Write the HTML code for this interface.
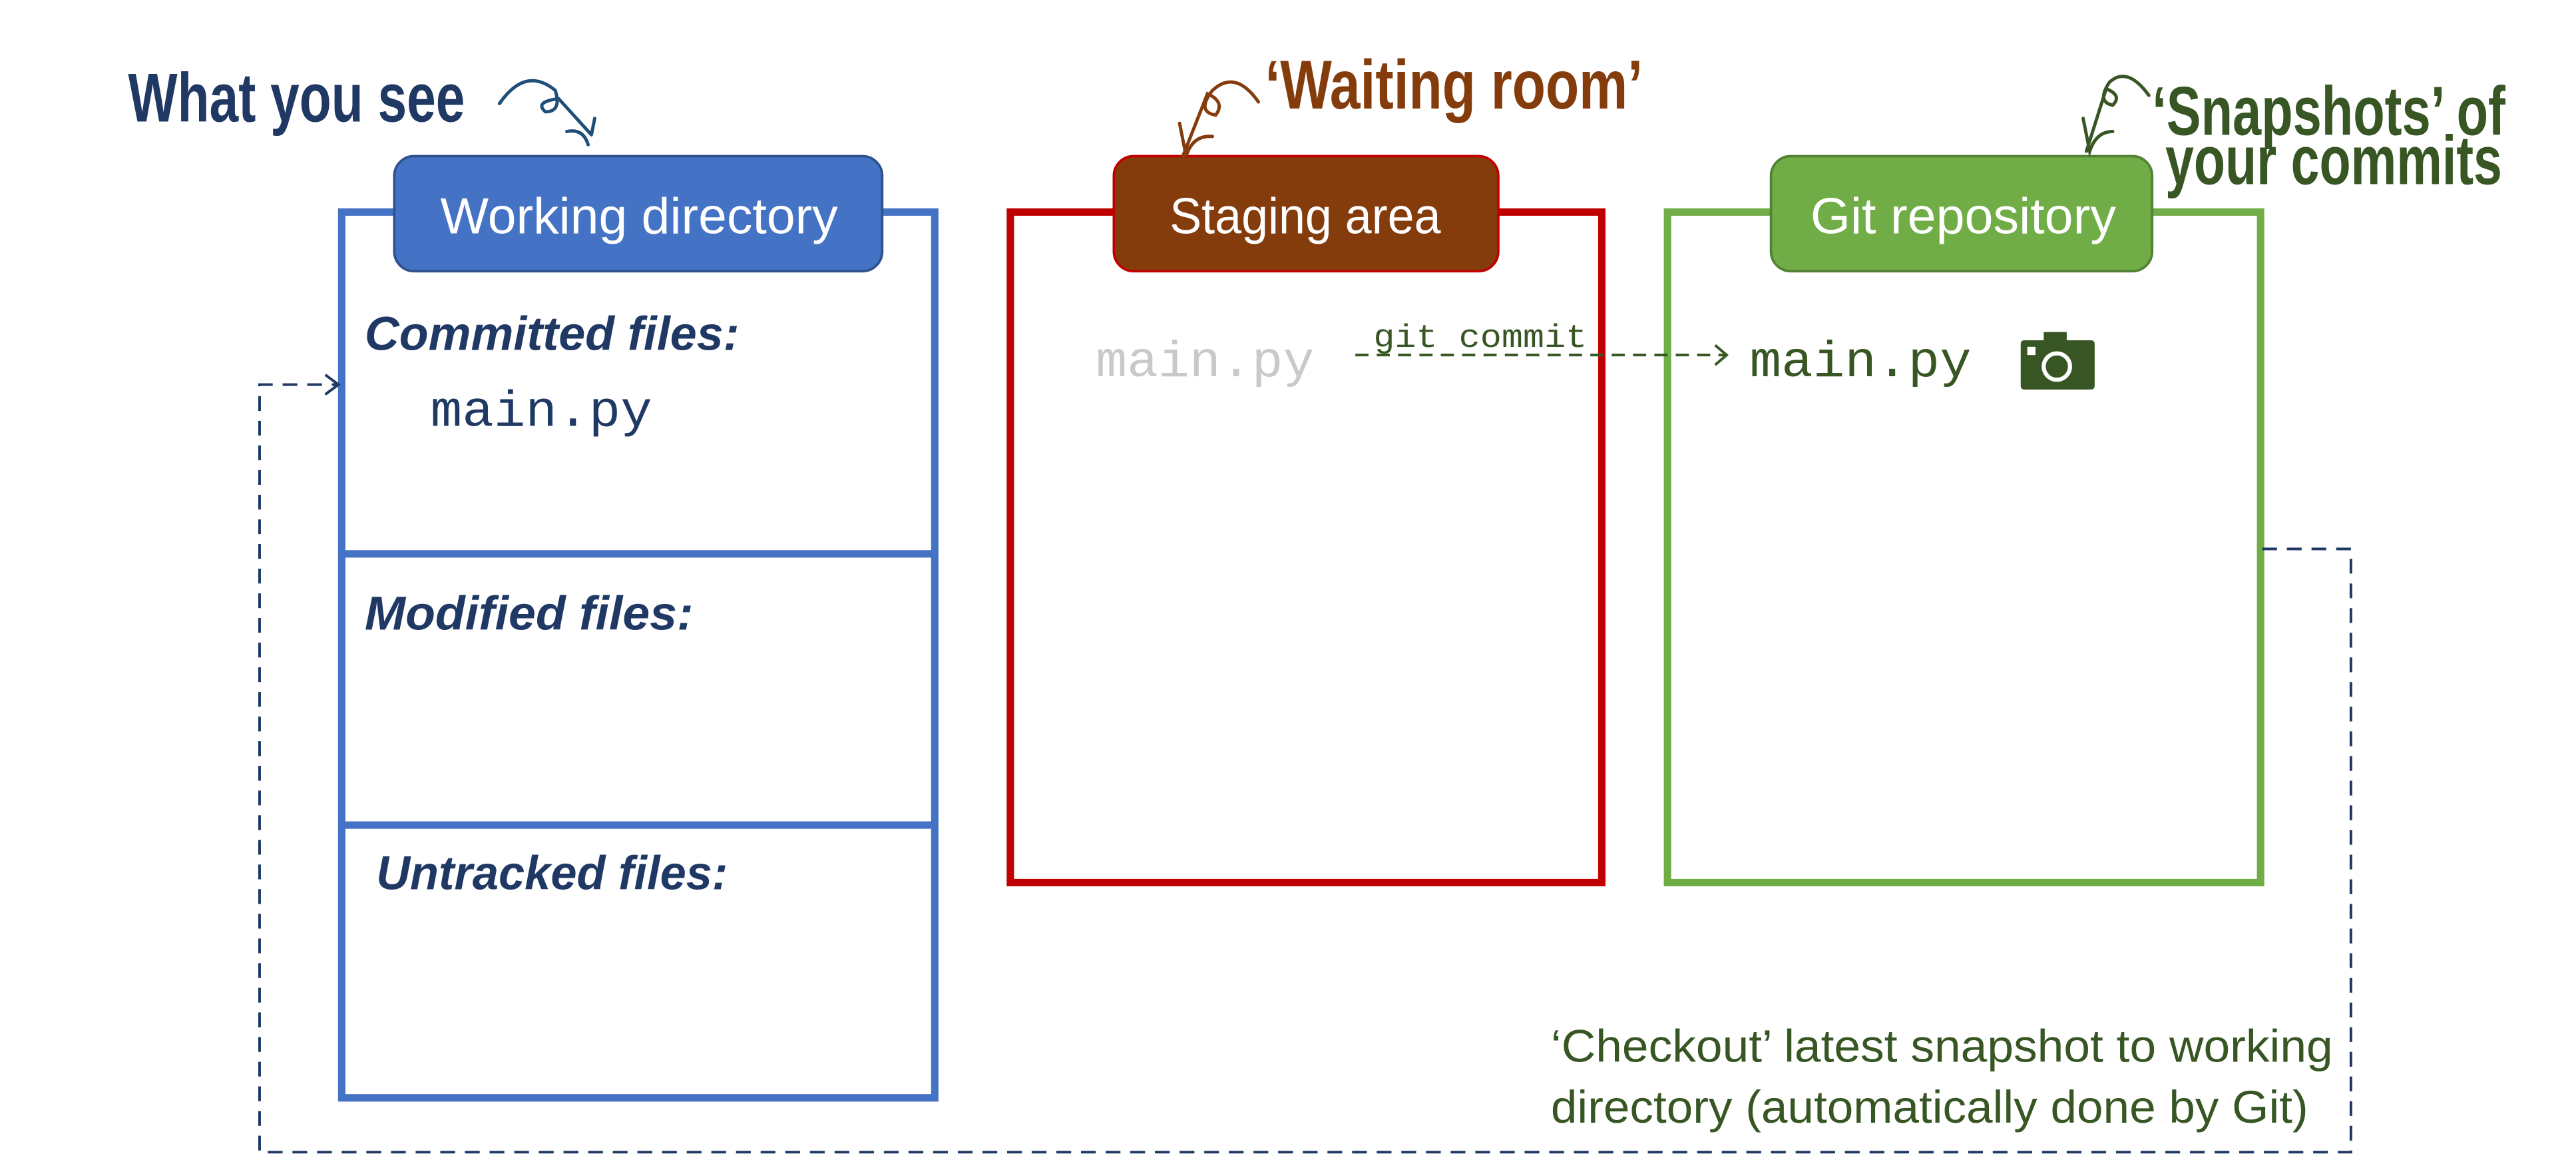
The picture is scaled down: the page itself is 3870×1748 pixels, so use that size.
<!DOCTYPE html>
<html><head><meta charset="utf-8"><style>html,body{margin:0;padding:0;background:#fff}svg{display:block}</style></head>
<body>
<svg width="3870" height="1748" viewBox="0 0 1568 708.2" xmlns="http://www.w3.org/2000/svg">
<rect width="1568" height="708.2" fill="#fff"/>
<g fill="none" stroke-width="4.5">
<rect x="208" y="129" width="361" height="539" stroke="#4472C4"/>
<line x1="208" y1="337" x2="569" y2="337" stroke="#4472C4"/>
<line x1="208" y1="502" x2="569" y2="502" stroke="#4472C4"/>
<rect x="615" y="129" width="360" height="408" stroke="#C00000"/>
<rect x="1015" y="129" width="361" height="408" stroke="#70AD47"/>
</g>
<rect x="240" y="95" width="297" height="70" rx="12" fill="#4472C4" stroke="#2F528F" stroke-width="1.5"/>
<rect x="678" y="95" width="234" height="70" rx="12" fill="#843C0C" stroke="#C00000" stroke-width="1.5"/>
<rect x="1078" y="95" width="232" height="70" rx="12" fill="#70AD47" stroke="#538135" stroke-width="1.5"/>
<g font-family="'Liberation Sans',sans-serif" fill="#fff" font-size="31" lengthAdjust="spacingAndGlyphs">
<text x="268" y="142" textLength="242" lengthAdjust="spacingAndGlyphs">Working directory</text>
<text x="712" y="142" textLength="165" lengthAdjust="spacingAndGlyphs">Staging area</text>
<text x="1102" y="142" textLength="186" lengthAdjust="spacingAndGlyphs">Git repository</text>
</g>
<g font-family="'Liberation Sans',sans-serif" font-weight="bold" font-size="42">
<text x="78" y="74" fill="#1F3864" textLength="205" lengthAdjust="spacingAndGlyphs">What you see</text>
<text x="770" y="66" fill="#843C0C" textLength="230" lengthAdjust="spacingAndGlyphs">‘Waiting room’</text>
<text x="1310" y="82" fill="#375623" textLength="215" lengthAdjust="spacingAndGlyphs">‘Snapshots’ of</text>
<text x="1318" y="112" fill="#375623" textLength="205" lengthAdjust="spacingAndGlyphs">your commits</text>
</g>
<g fill="none" stroke-width="2" stroke-linecap="round">
<path d="M304 63 Q320 40 338 55 Q342 68 332 68 Q325 62 340 60 L360 82 M345 80 Q355 78 358 88 M360 82 L362 72" stroke="#1F4E79"/>
<path d="M766 62 Q752 42 738 55 Q728 68 740 70 Q746 62 735 57 L720 95 M718 75 L722 95 Q726 82 738 83" stroke="#843C0C"/>
<path d="M1308 58 Q1295 40 1284 50 Q1276 62 1286 64 Q1292 58 1282 54 L1270 92 M1268 72 L1272 92 Q1276 80 1286 80" stroke="#375623"/>
</g>
<g font-family="'Liberation Sans',sans-serif" font-weight="bold" font-style="italic" font-size="29" fill="#1F3864">
<text x="222" y="213" textLength="228" lengthAdjust="spacingAndGlyphs">Committed files:</text>
<text x="222" y="383" textLength="200" lengthAdjust="spacingAndGlyphs">Modified files:</text>
<text x="229" y="541" textLength="214" lengthAdjust="spacingAndGlyphs">Untracked files:</text>
</g>
<g font-family="'Liberation Mono','DejaVu Sans Mono',monospace" font-size="31">
<text x="262" y="259" fill="#1F3864" textLength="135" lengthAdjust="spacingAndGlyphs">main.py</text>
<text x="667" y="229" fill="#C9C9C9" textLength="133" lengthAdjust="spacingAndGlyphs">main.py</text>
<text x="1065" y="229" fill="#375623" textLength="135" lengthAdjust="spacingAndGlyphs">main.py</text>
<text x="836" y="211" font-size="20" fill="#375623" textLength="130" lengthAdjust="spacingAndGlyphs">git commit</text>
</g>
<line x1="825" y1="216" x2="1050" y2="216" stroke="#375623" stroke-width="1.6" stroke-dasharray="8,5"/>
<path d="M1044 210 L1051 216 L1044 222" fill="none" stroke="#375623" stroke-width="1.6"/>
<rect x="1230" y="207" width="45" height="30" rx="2" fill="#375623"/>
<rect x="1244" y="202" width="14" height="7" fill="#375623"/>
<rect x="1234" y="211" width="5" height="5" fill="#fff"/>
<circle cx="1252" cy="223" r="8" fill="none" stroke="#fff" stroke-width="2.5"/>
<path d="M1377 334 L1431 334 L1431 701 L158 701 L158 234 L205 234" fill="none" stroke="#1F3864" stroke-width="1.6" stroke-dasharray="9,6"/>
<path d="M198 228 L206 234 L198 240" fill="none" stroke="#1F3864" stroke-width="1.6"/>
<g font-family="'Liberation Sans',sans-serif" font-size="28" fill="#375623">
<text x="944" y="646" textLength="476" lengthAdjust="spacingAndGlyphs">‘Checkout’ latest snapshot to working</text>
<text x="944" y="683" textLength="461" lengthAdjust="spacingAndGlyphs">directory (automatically done by Git)</text>
</g>
</svg>
</body></html>
